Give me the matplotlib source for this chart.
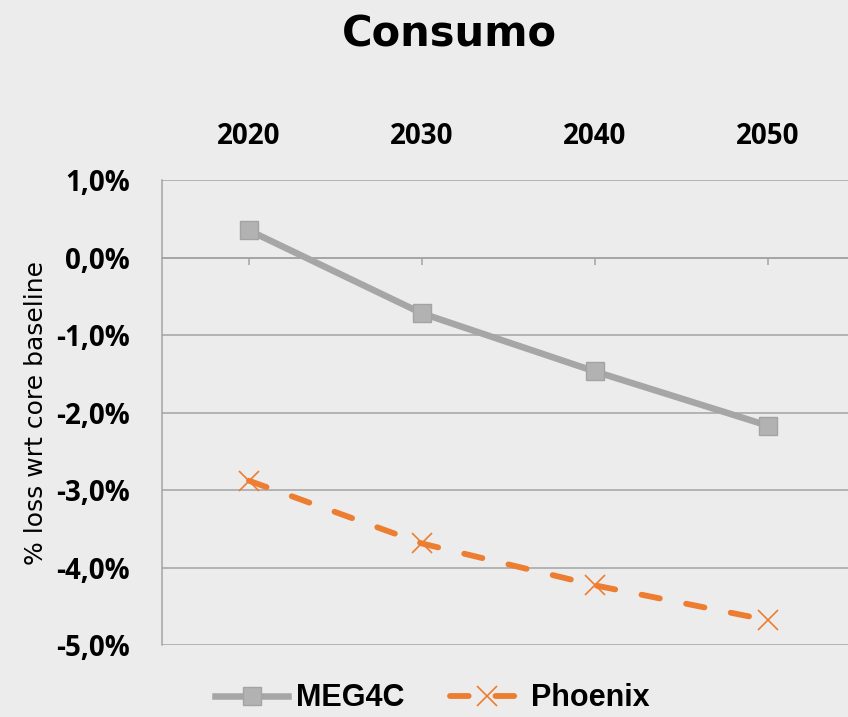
import numpy as np
import matplotlib.pyplot as plt
from matplotlib.ticker import FuncFormatter

years = ['2020', '2030', '2040', '2050']
meg4c = [0.35, -0.72, -1.47, -2.17]
phoenix = [-2.88, -3.69, -4.23, -4.68]
yticks = [1, 0, -1, -2, -3, -4, -5]

bg = '#ececec'
grid_col = '#a3a3a3'

fig = plt.figure(figsize=(8.48, 7.17), dpi=100, facecolor=bg)
ax = fig.add_axes([0.1916, 0.1004, 0.816, 0.6485])
ax.set_facecolor('none')

x = np.arange(len(years))

ax.plot(x, meg4c, color='#a6a6a6', lw=4.7, marker='s', markersize=13,
        markerfacecolor='#b2b2b2', markeredgecolor='#a3a3a3', markeredgewidth=1,
        label='MEG4C', zorder=3)
ax.plot(x, phoenix, color='#ed7d31', lw=4.2, dashes=(3.2, 4.6), dash_capstyle='round',
        marker='x', markersize=14, markeredgewidth=1.2, markeredgecolor='#ed7d31',
        label='Phoenix', zorder=3)

ax.set_xlim(-0.5, 3.5)
ax.set_ylim(-5, 1)
ax.set_yticks(yticks)
ax.yaxis.set_major_formatter(FuncFormatter(lambda v, p: f'{v:.1f}%'.replace('.', ',')))
ax.set_xticks(x)
ax.set_xticklabels(years)

ax.grid(axis='y', color=grid_col, lw=1.1)
ax.set_axisbelow(True)
for s in ['top', 'right']:
    ax.spines[s].set_visible(False)
ax.spines['left'].set_color(grid_col)
ax.spines['left'].set_linewidth(1.1)
ax.spines['bottom'].set_position(('data', 0))
ax.spines['bottom'].set_color(grid_col)
ax.spines['bottom'].set_linewidth(1.1)

ax.tick_params(axis='x', which='both', bottom=True, top=False, labelbottom=False, labeltop=True,
               direction='out', length=5, color=grid_col, width=1.1, pad=16)
ax.tick_params(axis='y', left=False, pad=20)
for lab in ax.get_xticklabels() + ax.get_yticklabels():
    lab.set_fontfamily('Open Sans')
    lab.set_fontweight('bold')
    lab.set_fontsize(20)

ax.set_ylabel('% loss wrt core baseline', fontsize=18, fontfamily='DejaVu Sans')
ax.yaxis.set_label_coords(-0.165, 0.5)

fig.text(0.53, 0.952, 'Consumo', ha='center', va='center', fontsize=30, fontweight='bold',
         fontfamily='DejaVu Sans')

leg = fig.legend(loc='center', bbox_to_anchor=(0.51, 0.026), ncol=2, frameon=False,
                 prop={'family': 'Liberation Sans', 'weight': 'bold', 'size': 22},
                 handlelength=2.4, handletextpad=0.25, columnspacing=1.5)

fig.savefig('out.png', dpi=100, facecolor=bg)
